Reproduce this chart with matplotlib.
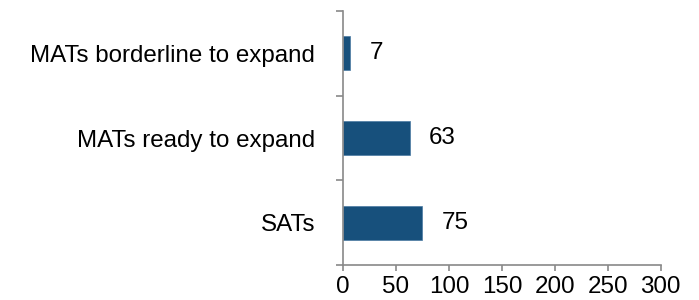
import matplotlib
matplotlib.use("Agg")
import matplotlib.pyplot as plt
import numpy as np

categories = ["SATs", "MATs ready to expand", "MATs borderline to expand"]
values = [75, 63, 7]
xticks = [0, 50, 100, 150, 200, 250, 300]

plt.rcParams['font.family'] = ['Liberation Sans', 'DejaVu Sans']
fs = 17.4
fig = plt.figure(figsize=(6.99, 3.0), dpi=100)
ax = fig.add_axes([0.4907, 0.1167, 0.9452 - 0.4907, 0.9633 - 0.1167])

pos = np.arange(len(categories))
ax.barh(pos, values, height=0.4, color="#17507c", edgecolor="#4a7aa3", linewidth=0.5)
for p, v in zip(pos, values):
    ax.annotate(str(v), (v, p), xytext=(14, 0), textcoords="offset points",
                va="center", ha="left", fontsize=fs, color="black")

ax.set_xlim(0, 300)
ax.set_ylim(-0.5, len(categories) - 0.5)
ax.set_xticks(xticks)
ax.set_xticklabels([str(t) for t in xticks], fontsize=fs)
ax.set_yticks(np.arange(-0.5, len(categories), 1.0))
ax.set_yticklabels([])
ax.set_yticks(pos, minor=True)
ax.set_yticklabels(categories, minor=True, fontsize=fs)
ax.tick_params(axis="y", which="minor", length=0, pad=20)
ax.tick_params(axis="y", which="major", length=5, width=1.2, color="#898989", direction="out")
ax.tick_params(axis="x", length=4, width=1.2, color="#898989", pad=4)
for s in ["top", "right"]:
    ax.spines[s].set_visible(False)
for s in ["left", "bottom"]:
    ax.spines[s].set_color("#898989")
    ax.spines[s].set_linewidth(1.2)

fig.savefig("out.png", dpi=100)
